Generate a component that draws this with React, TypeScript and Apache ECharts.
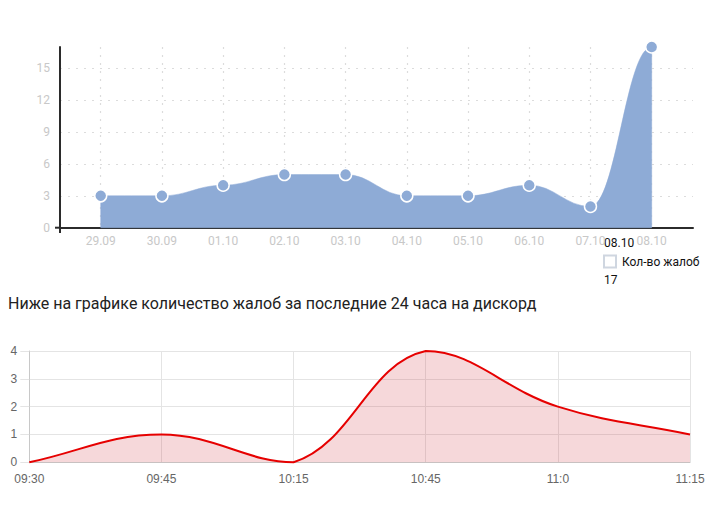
import React, { useEffect, useRef } from "react";
import * as echarts from "echarts";

const dayLabels = ["29.09", "30.09", "01.10", "02.10", "03.10", "04.10", "05.10", "06.10", "07.10", "08.10"];
const dayValues = [3, 3, 4, 5, 5, 3, 3, 4, 2, 17];
const dayTicks = [0, 3, 6, 9, 12, 15];
const seriesName = "Кол-во жалоб";

const timeLabels = ["09:30", "09:45", "10:15", "10:45", "11:0", "11:15"];
const timeValues = [0, 1, 0, 4, 2, 1];

const heading = "Ниже на графике количество жалоб за последние 24 часа на дискорд";

type Pt = number[];

// horizontal-tangent bezier through points
function flatSpline(pts: Pt[], k: number): string {
  let d = `L ${pts[0][0]} ${pts[0][1]}`;
  for (let i = 1; i < pts.length; i++) {
    const [x0, y0] = pts[i - 1];
    const [x1, y1] = pts[i];
    const c = (x1 - x0) * k;
    d += ` C ${x0 + c} ${y0} ${x1 - c} ${y1} ${x1} ${y1}`;
  }
  return d;
}

// tension spline with control points capped to the plot area
function tensionSpline(pts: Pt[], t: number, area: { x: number; y: number; width: number; height: number }): string {
  const n = pts.length;
  const cps = pts.map((cur, i) => {
    const prev = i > 0 ? pts[i - 1] : cur;
    const next = i < n - 1 ? pts[i + 1] : cur;
    const d01 = Math.hypot(cur[0] - prev[0], cur[1] - prev[1]);
    const d12 = Math.hypot(next[0] - cur[0], next[1] - cur[1]);
    let s01 = d01 / (d01 + d12);
    let s12 = d12 / (d01 + d12);
    if (isNaN(s01)) s01 = 0;
    if (isNaN(s12)) s12 = 0;
    const fa = t * s01;
    const fb = t * s12;
    const cap = (x: number, y: number) => [
      Math.min(Math.max(x, area.x), area.x + area.width),
      Math.min(Math.max(y, area.y), area.y + area.height),
    ];
    return {
      p: cap(cur[0] - fa * (next[0] - prev[0]), cur[1] - fa * (next[1] - prev[1])),
      n: cap(cur[0] + fb * (next[0] - prev[0]), cur[1] + fb * (next[1] - prev[1])),
    };
  });
  let d = `M ${pts[0][0]} ${pts[0][1]}`;
  for (let i = 1; i < n; i++) {
    const a = cps[i - 1].n;
    const b = cps[i].p;
    d += ` C ${a[0]} ${a[1]} ${b[0]} ${b[1]} ${pts[i][0]} ${pts[i][1]}`;
  }
  return d;
}

export default function App() {
  const ref = useRef<HTMLDivElement>(null);
  useEffect(() => {
    if (!ref.current) return;
    const chart = echarts.init(ref.current, null, { renderer: "svg" });
    const idx = dayLabels.map((_, i) => i);
    const last = dayLabels.length - 1;
    const dotted = { color: "#dcdcdc", width: 1.2, type: [2, 6] as any };
    const techFont = "Roboto";
    const blue = "#8eabd6";
    chart.setOption({
      animation: false,
      grid: [
        { left: 60, right: 18, top: 47, bottom: 277.3 },
        { left: 29.3, right: 21, top: 351, bottom: 42.7 },
      ],
      xAxis: [
        {
          gridIndex: 0,
          type: "value",
          min: -0.665,
          max: 9.675,
          axisLine: { show: true, onZero: false, lineStyle: { color: "#2b2b2b", width: 2 } },
          axisTick: { show: false, customValues: idx },
          axisLabel: {
            customValues: idx,
            formatter: (v: number) => dayLabels[Math.round(v)],
            color: "#c8c8c8",
            fontFamily: techFont,
            fontSize: 12,
            margin: 7,
          },
          splitLine: { show: true, lineStyle: dotted },
        },
        {
          gridIndex: 1,
          type: "category",
          data: timeLabels,
          boundaryGap: false,
          axisLine: { lineStyle: { color: "#c8c8c8", width: 1 } },
          axisTick: { show: false },
          axisLabel: { color: "#666", fontFamily: "Liberation Sans", fontSize: 12, margin: 11 },
          splitLine: { show: true, lineStyle: { color: "#e4e4e4", width: 1 } },
        },
      ],
      yAxis: [
        {
          gridIndex: 0,
          type: "value",
          min: 0,
          max: 17,
          axisLine: { show: true, onZero: false, lineStyle: { color: "#2b2b2b", width: 2 } },
          axisTick: { show: false, customValues: dayTicks },
          axisLabel: { customValues: dayTicks, color: "#c8c8c8", fontFamily: techFont, fontSize: 12, margin: 10 },
          splitLine: { show: true, lineStyle: dotted },
        },
        {
          gridIndex: 1,
          type: "value",
          min: 0,
          max: 4,
          interval: 1,
          axisLine: { show: true, lineStyle: { color: "#c8c8c8", width: 1 } },
          axisTick: { show: true, length: 9, lineStyle: { color: "#e4e4e4" } },
          axisLabel: { color: "#666", fontFamily: "Liberation Sans", fontSize: 12, margin: 12 },
          splitLine: { show: true, lineStyle: { color: "#e4e4e4", width: 1 } },
        },
      ],
      series: [
        {
          type: "custom",
          name: seriesName,
          xAxisIndex: 0,
          yAxisIndex: 0,
          data: dayValues.map((v, i) => [i, v]),
          encode: { x: 0, y: 1 },
          z: 2,
          renderItem: (params: any, api: any) => {
            if (params.dataIndex !== 0) return null;
            const pts = dayValues.map((v, i) => api.coord([i, v]));
            const base = api.coord([0, 0])[1];
            const d =
              `M ${pts[0][0]} ${base} ` +
              flatSpline(pts, 0.42) +
              ` L ${pts[last][0]} ${base} Z`;
            return {
              type: "path",
              shape: { pathData: d },
              style: { fill: blue, stroke: blue, lineWidth: 0.5 },
            };
          },
        },
        {
          type: "scatter",
          xAxisIndex: 0,
          yAxisIndex: 0,
          data: dayValues.map((v, i) => [i, v]),
          symbol: "circle",
          symbolSize: 12,
          itemStyle: { color: blue, borderColor: "#fff", borderWidth: 1.5, opacity: 1 },
          z: 3,
        },
        {
          type: "custom",
          xAxisIndex: 1,
          yAxisIndex: 1,
          data: timeValues.map((v, i) => [i, v]),
          encode: { x: 0, y: 1 },
          renderItem: (params: any, api: any) => {
            if (params.dataIndex !== 0) return null;
            const pts = timeValues.map((v, i) => api.coord([i, v]));
            const base = api.coord([0, 0])[1];
            const line = tensionSpline(pts, 0.4, params.coordSys);
            const areaD =
              line + ` L ${pts[pts.length - 1][0]} ${base} L ${pts[0][0]} ${base} Z`;
            return {
              type: "group",
              children: [
                { type: "path", shape: { pathData: areaD }, style: { fill: "rgba(210, 60, 70, 0.2)" } },
                {
                  type: "path",
                  shape: { pathData: line },
                  style: { fill: "none", stroke: "#e60000", lineWidth: 2 },
                },
              ],
            };
          },
        },
      ],
      graphic: [
        { type: "line", shape: { x1: 55, y1: 227.7, x2: 60, y2: 227.7 }, style: { stroke: "#2b2b2b", lineWidth: 2 } },
        { type: "line", shape: { x1: 60, y1: 227, x2: 60, y2: 233 }, style: { stroke: "#2b2b2b", lineWidth: 2 } },
        { type: "rect", shape: { x: 602, y: 235, width: 31, height: 14 }, style: { fill: "#fff" } },
        {
          type: "text",
          x: 604,
          y: 243,
          style: { text: dayLabels[last], fill: "#111", font: `12px ${techFont}`, textVerticalAlign: "middle" },
        },
        {
          type: "rect",
          shape: { x: 604, y: 255.5, width: 12, height: 12 },
          style: { fill: "#fff", stroke: "#cfd6e0", lineWidth: 2 },
        },
        {
          type: "text",
          x: 622,
          y: 261.5,
          style: { text: seriesName, fill: "#111", font: `12px ${techFont}`, textVerticalAlign: "middle" },
        },
        {
          type: "text",
          x: 604,
          y: 280,
          style: { text: String(dayValues[last]), fill: "#111", font: `12px ${techFont}`, textVerticalAlign: "middle" },
        },
        {
          type: "text",
          x: 8,
          y: 303,
          style: { text: heading, fill: "#222", font: "16px Roboto", textVerticalAlign: "middle" },
        },
      ],
    });
    return () => chart.dispose();
  }, []);
  return (
    <div
      ref={ref}
      style={{ position: "fixed", left: 0, top: 0, width: 711, height: 505, background: "#fff" }}
    />
  );
}
